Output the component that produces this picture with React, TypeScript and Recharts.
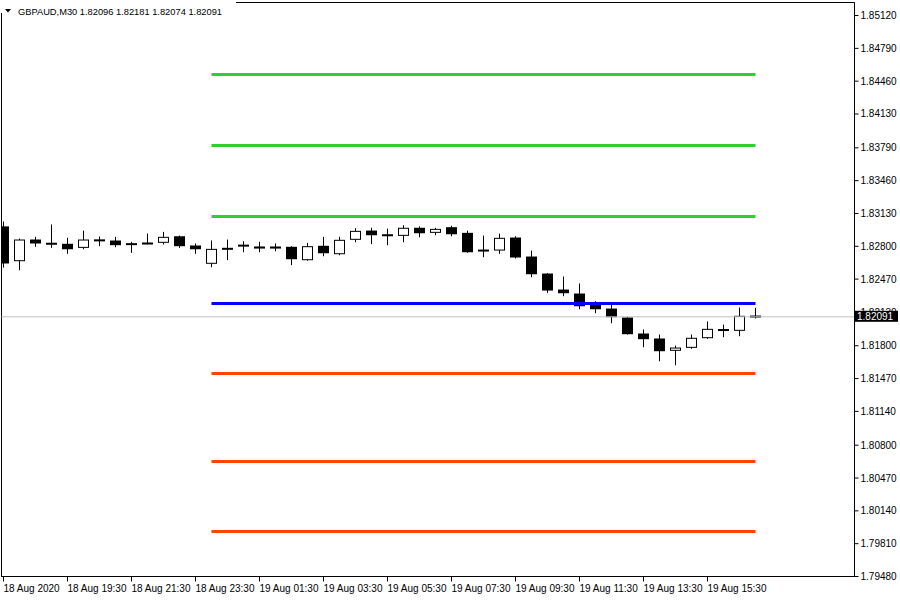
import React from 'react';
import { ComposedChart, Bar, XAxis, YAxis, ReferenceLine, ReferenceArea } from 'recharts';

// ---- data (GBPAUD M30, 48 bars from 18 Aug 17:30 to 19 Aug 17:00) ----
const opens = [
  1.83000, 1.82650, 1.82868, 1.82828, 1.82825, 1.82784, 1.82868, 1.82858, 1.82828, 1.82835,
  1.82835, 1.82901, 1.82808, 1.82624, 1.82772, 1.82805, 1.82798, 1.82798, 1.82795, 1.82660,
  1.82805, 1.82720, 1.82865, 1.82958, 1.82908, 1.82905, 1.82986, 1.82935, 1.82992, 1.82935,
  1.82764, 1.82757, 1.82888, 1.82697, 1.82526, 1.82365, 1.82325, 1.82217, 1.82174, 1.82084,
  1.81923, 1.81873, 1.81749, 1.81779, 1.81876, 1.81966, 1.81950, 1.82096,
];
const highs = [
  1.83049, 1.82878, 1.82895, 1.83019, 1.82885, 1.82958, 1.82898, 1.82895, 1.82845, 1.82928,
  1.82945, 1.82908, 1.82828, 1.82858, 1.82868, 1.82851, 1.82845, 1.82828, 1.82800, 1.82835,
  1.82895, 1.82895, 1.82982, 1.82986, 1.82978, 1.83012, 1.83000, 1.82986, 1.83006, 1.82958,
  1.82908, 1.82928, 1.82901, 1.82757, 1.82530, 1.82496, 1.82426, 1.82248, 1.82217, 1.82091,
  1.81963, 1.81913, 1.81802, 1.81913, 1.82044, 1.82013, 1.82184, 1.82181,
];
const lows = [
  1.82586, 1.82559, 1.82794, 1.82784, 1.82724, 1.82770, 1.82801, 1.82791, 1.82734, 1.82818,
  1.82818, 1.82784, 1.82724, 1.82589, 1.82660, 1.82740, 1.82740, 1.82750, 1.82610, 1.82655,
  1.82700, 1.82710, 1.82841, 1.82821, 1.82811, 1.82841, 1.82891, 1.82911, 1.82901, 1.82735,
  1.82690, 1.82724, 1.82677, 1.82489, 1.82332, 1.82298, 1.82167, 1.82127, 1.82026, 1.81912,
  1.81785, 1.81644, 1.81604, 1.81769, 1.81870, 1.81886, 1.81896, 1.82074,
];
const closes = [
  1.82627, 1.82868, 1.82828, 1.82823, 1.82770, 1.82868, 1.82851, 1.82811, 1.82815, 1.82821,
  1.82895, 1.82801, 1.82770, 1.82774, 1.82777, 1.82808, 1.82777, 1.82777, 1.82670, 1.82801,
  1.82730, 1.82865, 1.82955, 1.82911, 1.82914, 1.82986, 1.82931, 1.82975, 1.82921, 1.82740,
  1.82750, 1.82885, 1.82687, 1.82519, 1.82355, 1.82328, 1.82197, 1.82167, 1.82087, 1.81916,
  1.81866, 1.81745, 1.81782, 1.81880, 1.81970, 1.81950, 1.82101, 1.82091,
];

// time axis labels (every 4th bar)
const timeTickIndex = [0, 4, 8, 12, 16, 20, 24, 28, 32, 36, 40, 44];
const timeTickLabels = [
  '18 Aug 2020', '18 Aug 19:30', '18 Aug 21:30', '18 Aug 23:30', '19 Aug 01:30', '19 Aug 03:30',
  '19 Aug 05:30', '19 Aug 07:30', '19 Aug 09:30', '19 Aug 11:30', '19 Aug 13:30', '19 Aug 15:30',
];

// price axis labels
const priceTicks = [
  1.85120, 1.84790, 1.84460, 1.84130, 1.83790, 1.83460, 1.83130, 1.82800, 1.82470, 1.82130,
  1.81800, 1.81470, 1.81140, 1.80800, 1.80470, 1.80140, 1.79810, 1.79480,
];
const currentPrice = 1.82091;

// pivot-style level lines
const resistanceLevels = [1.84527, 1.83813, 1.83099];
const pivotLevel = 1.82225;
const supportLevels = [1.81521, 1.80636, 1.79932];
const levelStartBar = 13;
const levelEndBar = 47;

const header = 'GBPAUD,M30  1.82096 1.82181 1.82074 1.82091';

// ---- layout constants ----
const X_MIN = -0.125;
const X_MAX = 53.1875;
const Y_MIN = 1.79480;
const Y_MAX = 1.85251;
const FONT = '"Liberation Sans", Arial, sans-serif';

const data = opens.map((o, i) => ({
  i,
  open: o,
  high: highs[i],
  low: lows[i],
  close: closes[i],
  range: [lows[i], highs[i]],
}));

const Candle = (props: any) => {
  const { x, y, width, height, payload } = props;
  if (payload == null || x == null) return null;
  const top = Math.min(y, y + height);
  const bottom = Math.max(y, y + height);
  const span = payload.high - payload.low;
  const k = span > 0 ? (bottom - top) / span : 0;
  const py = (v: number) => top + (payload.high - v) * k;
  const cx = x + width / 2;
  const yo = py(payload.open);
  const yc = py(payload.close);
  let bt = Math.min(yo, yc);
  let bh = Math.abs(yo - yc);
  if (bh < 2) {
    const mid = (yo + yc) / 2;
    bt = mid - 1;
    bh = 2;
  }
  const bull = payload.close >= payload.open;
  const bw = 11;
  return (
    <g>
      <line x1={cx} x2={cx} y1={top} y2={bottom} stroke="#000" strokeWidth={1} />
      {bull ? (
        <rect x={cx - bw / 2 + 0.5} y={bt + 0.5} width={bw - 1} height={Math.max(bh - 1, 1)} fill="#fff" stroke="#000" strokeWidth={1} />
      ) : (
        <rect x={cx - bw / 2} y={bt} width={bw} height={bh} fill="#000" />
      )}
    </g>
  );
};

const PriceTick = (props: any) => {
  const { x, y, payload } = props;
  const v = payload.value as number;
  if (Math.abs(v - currentPrice) < 1e-9) {
    return (
      <g>
        <rect x={x - 5.5} y={y - 6} width={43} height={11} fill="#000" />
        <text x={x - 3.5} y={y} dy="0.35em" fill="#fff" fontSize={10} fontFamily={FONT}>
          {v.toFixed(5)}
        </text>
      </g>
    );
  }
  return (
    <text x={x} y={y} dy="0.35em" fill="#000" fontSize={10} fontFamily={FONT}>
      {v.toFixed(5)}
    </text>
  );
};

const TimeTick = (props: any) => {
  const { x, y, payload } = props;
  const idx = timeTickIndex.indexOf(payload.value);
  return (
    <text x={x} y={y} dy={8.5} fill="#000" fontSize={10} fontFamily={FONT} textAnchor="start">
      {idx >= 0 ? timeTickLabels[idx] : ''}
    </text>
  );
};

export default function App() {
  return (
    <div style={{ position: 'absolute', left: 0, top: 0, width: 900, height: 600, background: '#fff' }}>
      <ComposedChart
        width={900}
        height={600}
        data={data}
        margin={{ top: 2.5, right: 0, bottom: 0, left: 1.5 }}
      >
        <XAxis
          dataKey="i"
          type="number"
          domain={[X_MIN, X_MAX]}
          allowDataOverflow
          ticks={timeTickIndex}
          interval={0}
          height={23.5}
          tickSize={5}
          tickMargin={2}
          axisLine={{ stroke: '#000' }}
          tickLine={{ stroke: '#000' }}
          tick={<TimeTick />}
        />
        <YAxis
          orientation="right"
          type="number"
          domain={[Y_MIN, Y_MAX]}
          allowDataOverflow
          ticks={[...priceTicks, currentPrice]}
          interval={0}
          width={45.5}
          tickSize={4}
          tickMargin={2}
          axisLine={{ stroke: '#000' }}
          tickLine={{ stroke: '#000' }}
          tick={<PriceTick />}
        />
        <ReferenceArea x1={X_MIN} x2={X_MAX} y1={Y_MIN} y2={Y_MAX} fill="none" stroke="#000" strokeWidth={1} />
        <ReferenceLine y={currentPrice} stroke="#C0C0C0" strokeWidth={1} />
        {resistanceLevels.map((v, n) => (
          <ReferenceLine
            key={'r' + n}
            segment={[{ x: levelStartBar, y: v }, { x: levelEndBar, y: v }]}
            stroke="#32CD32"
            strokeWidth={3}
          />
        ))}
        <ReferenceLine
          segment={[{ x: levelStartBar, y: pivotLevel }, { x: levelEndBar, y: pivotLevel }]}
          stroke="#0000FF"
          strokeWidth={3}
        />
        {supportLevels.map((v, n) => (
          <ReferenceLine
            key={'s' + n}
            segment={[{ x: levelStartBar, y: v }, { x: levelEndBar, y: v }]}
            stroke="#FF4500"
            strokeWidth={3}
          />
        ))}
        <Bar dataKey="range" barSize={12} shape={<Candle />} isAnimationActive={false} />
      </ComposedChart>
      <svg width={236} height={19} style={{ position: 'absolute', left: 0, top: 0 }}>
        <rect x={0} y={0} width={236} height={13} fill="#fff" />
        <polygon points="5,9 11,9 8,12.5" fill="#000" />
        <text x={18} y={15} fontSize={9.3} fontFamily={FONT} fill="#000">
          {header}
        </text>
      </svg>
    </div>
  );
}
